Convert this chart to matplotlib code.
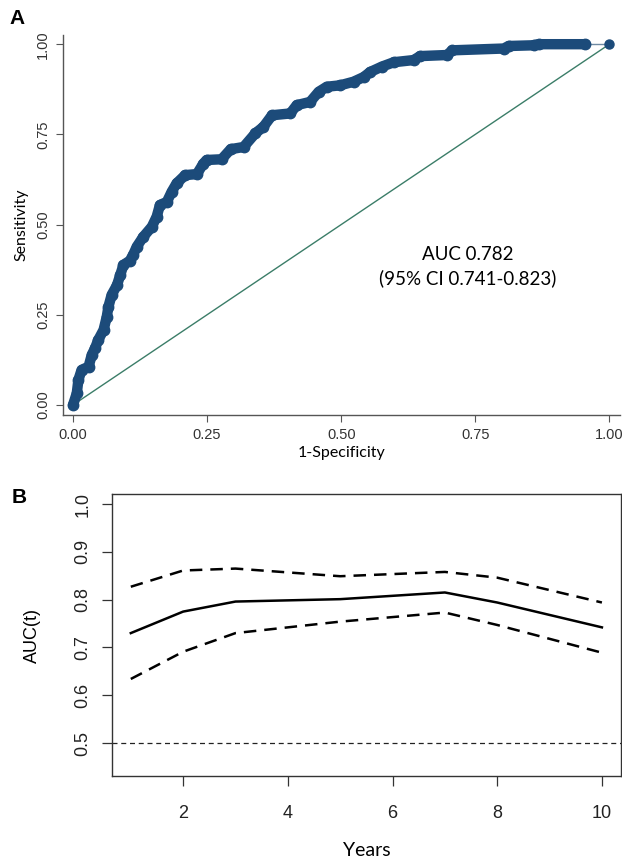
import matplotlib
matplotlib.use("Agg")
import matplotlib.pyplot as plt

# panel A: ROC curve vertices
fpr = [0.000, 0.007, 0.010, 0.016, 0.029, 0.035, 0.041, 0.047, 0.057, 0.063,
       0.066, 0.072, 0.082, 0.088, 0.094, 0.106, 0.112, 0.119, 0.131, 0.147,
       0.156, 0.162, 0.175, 0.184, 0.193, 0.209, 0.231, 0.243, 0.249, 0.277,
       0.294, 0.318, 0.340, 0.355, 0.371, 0.405, 0.417, 0.442, 0.458, 0.473,
       0.498, 0.523, 0.542, 0.554, 0.576, 0.598, 0.635, 0.647, 0.697, 0.707,
       0.803, 0.812, 0.859, 0.868, 0.955]
tpr = [0.000, 0.032, 0.069, 0.097, 0.106, 0.139, 0.157, 0.180, 0.208, 0.245,
       0.272, 0.305, 0.332, 0.360, 0.388, 0.400, 0.416, 0.439, 0.466, 0.494,
       0.522, 0.554, 0.563, 0.591, 0.614, 0.637, 0.640, 0.669, 0.679, 0.681,
       0.709, 0.715, 0.753, 0.771, 0.803, 0.808, 0.831, 0.840, 0.868, 0.882,
       0.886, 0.896, 0.909, 0.923, 0.938, 0.950, 0.956, 0.967, 0.970, 0.983,
       0.988, 0.995, 0.997, 1.000, 1.000]
end_point = (1.0, 1.0)
roc_ticks = [0.00, 0.25, 0.50, 0.75, 1.00]

# panel B: time-dependent AUC with confidence band
years = [1, 2, 3, 5, 7, 8, 10]
auc_t = [0.730, 0.775, 0.796, 0.801, 0.815, 0.794, 0.742]
auc_hi = [0.827, 0.861, 0.865, 0.849, 0.858, 0.846, 0.794]
auc_lo = [0.634, 0.691, 0.730, 0.754, 0.773, 0.747, 0.689]
year_ticks = [2, 4, 6, 8, 10]
auc_ticks = [0.5, 0.6, 0.7, 0.8, 0.9, 1.0]

navy = "#1c4b7a"
gill = ["Lato", "DejaVu Sans"]
helv = ["Liberation Sans", "DejaVu Sans"]

fig = plt.figure(figsize=(6.22, 8.58), dpi=100)

# ---- A
ax = fig.add_axes([0.101, 0.5163, 0.896, 0.4427])
ax.plot([0, 1], [0, 1], color="#3b7d68", lw=1.0, zorder=1)
ax.plot([fpr[-1], end_point[0]], [tpr[-1], end_point[1]], color="#6f8aa3", lw=1.0, zorder=2)
ax.plot(fpr, tpr, color=navy, lw=7.5, solid_capstyle="round", solid_joinstyle="round",
        marker="o", ms=7.5, zorder=3)
ax.plot([end_point[0]], [end_point[1]], "o", color=navy, ms=6.5, zorder=3)
ax.set_xlim(-0.019, 1.02)
ax.set_ylim(-0.028, 1.025)
for s in ["top", "right"]:
    ax.spines[s].set_visible(False)
for s in ["left", "bottom"]:
    ax.spines[s].set_color("#555555")
    ax.spines[s].set_linewidth(1.0)
ax.set_xticks(roc_ticks)
ax.set_yticks(roc_ticks)
ax.set_xticklabels([f"{t:.2f}" for t in roc_ticks], family=helv, fontsize=10.5, color="#333333")
ax.set_yticklabels([f"{t:.2f}" for t in roc_ticks], family=helv, fontsize=10.5, color="#333333",
                   rotation=90, va="center")
ax.tick_params(direction="out", length=5, width=0.8, color="#555555", pad=4)
ax.set_xlabel("1-Specificity", family=gill, fontsize=11.5, labelpad=3)
ax.set_ylabel("Sensitivity", family=gill, fontsize=11.5, labelpad=6)
ax.text(0.735, 0.384, "AUC 0.782\n(95% CI 0.741-0.823)", family=gill, fontsize=13.5,
        ha="center", va="center", linespacing=1.45)
fig.text(0.016, 0.978, "A", fontsize=15, fontweight="bold", family=helv, va="center")

# ---- B
bx = fig.add_axes([0.180, 0.0956, 0.818, 0.3286])
bx.plot(years, auc_t, color="black", lw=1.8)
bx.plot(years, auc_hi, color="black", lw=1.8, dashes=(5, 3.2))
bx.plot(years, auc_lo, color="black", lw=1.8, dashes=(5, 3.2))
bx.axhline(0.5, color="#222222", lw=0.9, dashes=(4, 3))
bx.set_xlim(0.64, 10.36)
bx.set_ylim(0.431, 1.021)
for s in bx.spines.values():
    s.set_color("#333333")
    s.set_linewidth(1.0)
bx.set_xticks(year_ticks)
bx.set_yticks(auc_ticks)
bx.set_xticklabels([str(t) for t in year_ticks], family=helv, fontsize=13, color="#222222")
bx.set_yticklabels([f"{t:.1f}" for t in auc_ticks], family=helv, fontsize=13, color="#222222",
                   rotation=90, va="center")
bx.tick_params(axis="x", direction="out", length=7, width=0.9, color="#333333", pad=14)
bx.tick_params(axis="y", direction="out", length=7, width=0.9, color="#333333", pad=8)
bx.set_xlabel("Years", family=gill, fontsize=14, labelpad=14)
bx.set_ylabel("AUC(t)", family=helv, fontsize=13, labelpad=24)
fig.text(0.018, 0.42, "B", fontsize=15, fontweight="bold", family=helv, va="center")

fig.savefig("out.png", dpi=100)
